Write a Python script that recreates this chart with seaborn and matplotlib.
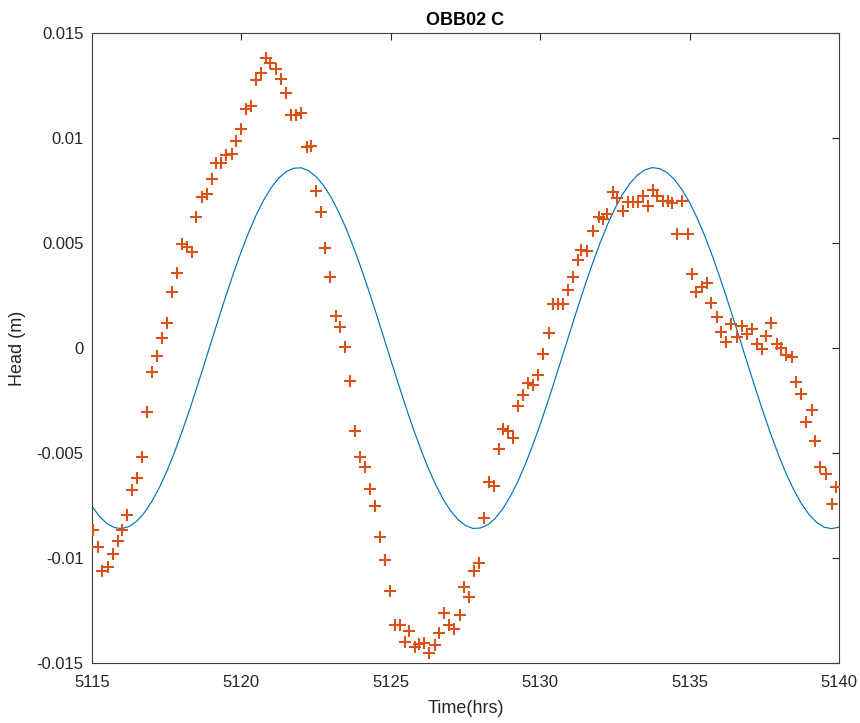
import matplotlib
matplotlib.use("Agg")
import matplotlib.pyplot as plt
import seaborn as sns
import numpy as np
import pandas as pd
from matplotlib.ticker import FuncFormatter

# Measured data (red '+' markers)
obs_time = [
    5115.03, 5115.20, 5115.35, 5115.54, 5115.70, 5115.87, 5116.02, 5116.18, 5116.34, 5116.52,
    5116.67, 5116.84, 5117.01, 5117.18, 5117.34, 5117.51, 5117.68, 5117.84, 5118.01, 5118.18,
    5118.35, 5118.49, 5118.69, 5118.85, 5119.01, 5119.16, 5119.32, 5119.50, 5119.67, 5119.83,
    5120.00, 5120.17, 5120.33, 5120.48, 5120.65, 5120.81, 5120.95, 5121.15, 5121.32, 5121.48,
    5121.67, 5121.84, 5122.01, 5122.18, 5122.32, 5122.49, 5122.65, 5122.81, 5122.98, 5123.15,
    5123.31, 5123.48, 5123.62, 5123.79, 5123.96, 5124.13, 5124.29, 5124.46, 5124.63, 5124.80,
    5124.96, 5125.13, 5125.30, 5125.47, 5125.61, 5125.80, 5125.94, 5126.11, 5126.27, 5126.47,
    5126.61, 5126.78, 5126.95, 5127.11, 5127.30, 5127.45, 5127.62, 5127.77, 5127.94, 5128.11,
    5128.28, 5128.44, 5128.61, 5128.76, 5128.92, 5129.09, 5129.26, 5129.42, 5129.59, 5129.76,
    5129.93, 5130.09, 5130.28, 5130.43, 5130.60, 5130.76, 5130.93, 5131.10, 5131.26, 5131.38,
    5131.57, 5131.77, 5131.96, 5132.10, 5132.24, 5132.42, 5132.57, 5132.77, 5132.94, 5133.11,
    5133.27, 5133.44, 5133.61, 5133.77, 5133.92, 5134.11, 5134.26, 5134.42, 5134.58, 5134.75,
    5134.93, 5135.08, 5135.23, 5135.42, 5135.58, 5135.73, 5135.90, 5136.04, 5136.23, 5136.40,
    5136.59, 5136.75, 5136.92, 5137.09, 5137.26, 5137.42, 5137.57, 5137.74, 5137.91, 5138.07,
    5138.24, 5138.41, 5138.55, 5138.72, 5138.91, 5139.08, 5139.21, 5139.38, 5139.55, 5139.75,
    5139.91,
]
obs_head = [
    -0.00867, -0.00946, -0.01060, -0.01044, -0.00981, -0.00918, -0.00867, -0.00795, -0.00676, -0.00620,
    -0.00520, -0.00306, -0.00116, -0.00037, 0.00046, 0.00118, 0.00268, 0.00360, 0.00495, 0.00482,
    0.00459, 0.00625, 0.00720, 0.00733, 0.00808, 0.00884, 0.00880, 0.00919, 0.00927, 0.00987,
    0.01046, 0.01141, 0.01152, 0.01276, 0.01311, 0.01380, 0.01356, 0.01332, 0.01284, 0.01216,
    0.01110, 0.01110, 0.01118, 0.00959, 0.00963, 0.00749, 0.00649, 0.00475, 0.00337, 0.00152,
    0.00101, 0.00006, -0.00156, -0.00394, -0.00518, -0.00568, -0.00673, -0.00751, -0.00901, -0.01010,
    -0.01157, -0.01319, -0.01319, -0.01398, -0.01348, -0.01425, -0.01410, -0.01406, -0.01454, -0.01414,
    -0.01356, -0.01263, -0.01319, -0.01338, -0.01271, -0.01140, -0.01184, -0.01060, -0.01025, -0.00808,
    -0.00637, -0.00656, -0.00481, -0.00386, -0.00394, -0.00430, -0.00276, -0.00224, -0.00168, -0.00176,
    -0.00129, -0.00029, 0.00073, 0.00210, 0.00210, 0.00210, 0.00276, 0.00337, 0.00419, 0.00467,
    0.00463, 0.00559, 0.00625, 0.00617, 0.00641, 0.00744, 0.00717, 0.00654, 0.00697, 0.00697,
    0.00697, 0.00724, 0.00676, 0.00752, 0.00724, 0.00702, 0.00702, 0.00689, 0.00546, 0.00702,
    0.00543, 0.00352, 0.00268, 0.00289, 0.00311, 0.00213, 0.00146, 0.00078, 0.00030, 0.00114,
    0.00051, 0.00105, 0.00067, 0.00089, 0.00022, -0.00006, 0.00057, 0.00120, 0.00022, 0.00000,
    -0.00033, -0.00044, -0.00160, -0.00219, -0.00351, -0.00295, -0.00441, -0.00568, -0.00600, -0.00743,
    -0.00663,
]

# Model curve (blue line), read every 0.25 hr
model_time = [5115.0 + 0.25 * k for k in range(101)]
model_head = [
    -0.00754, -0.00802, -0.00836, -0.00855, -0.00860, -0.00849, -0.00824, -0.00784, -0.00731, -0.00665,
    -0.00588, -0.00500, -0.00403, -0.00300, -0.00191, -0.00079, 0.00034, 0.00147, 0.00257, 0.00363,
    0.00462, 0.00554, 0.00636, 0.00706, 0.00765, 0.00810, 0.00841, 0.00857, 0.00859, 0.00845,
    0.00817, 0.00775, 0.00719, 0.00650, 0.00571, 0.00481, 0.00383, 0.00279, 0.00169, 0.00057,
    -0.00057, -0.00169, -0.00279, -0.00383, -0.00481, -0.00571, -0.00650, -0.00719, -0.00775, -0.00817,
    -0.00845, -0.00859, -0.00857, -0.00841, -0.00810, -0.00765, -0.00706, -0.00636, -0.00554, -0.00462,
    -0.00363, -0.00257, -0.00147, -0.00034, 0.00079, 0.00191, 0.00300, 0.00403, 0.00500, 0.00588,
    0.00665, 0.00731, 0.00784, 0.00824, 0.00849, 0.00860, 0.00855, 0.00836, 0.00802, 0.00754,
    0.00693, 0.00620, 0.00537, 0.00443, 0.00342, 0.00235, 0.00124, 0.00011, -0.00102, -0.00213,
    -0.00321, -0.00423, -0.00518, -0.00604, -0.00679, -0.00743, -0.00793, -0.00830, -0.00853, -0.00860,
    -0.00853,
]

x_ticks = [5115, 5120, 5125, 5130, 5135, 5140]
y_ticks = [-0.015, -0.01, -0.005, 0, 0.005, 0.01, 0.015]

title_text = "OBB02 C"
x_label = "Time(hrs)"
y_label = "Head (m)"

sns.set_style("white")
plt.rcParams['font.family'] = ['Liberation Sans', 'DejaVu Sans']

fig = plt.figure(figsize=(8.6, 7.23), dpi=100)
ax = fig.add_axes([0.107, 0.083, 0.8686, 0.871])

model_df = pd.DataFrame({"t": model_time, "h": model_head})
obs_df = pd.DataFrame({"t": obs_time, "h": obs_head})

sns.lineplot(data=model_df, x="t", y="h", ax=ax, color="#0072BD", linewidth=0.85)
sns.scatterplot(data=obs_df, x="t", y="h", ax=ax, marker="+", s=85,
                color="#D95319", linewidth=1.5, zorder=3)

ax.set_xlim(5115, 5140)
ax.set_ylim(-0.015, 0.015)
ax.set_xticks(x_ticks)
ax.set_yticks(y_ticks)
ax.yaxis.set_major_formatter(FuncFormatter(lambda v, p: f"{round(v, 6):g}"))
ax.xaxis.set_major_formatter(FuncFormatter(lambda v, p: f"{v:g}"))

ax.tick_params(direction="in", length=5, width=0.8, colors="#262626",
               labelsize=12, top=True, right=True, labelcolor="#262626")
ax.tick_params(axis="x", pad=9)
ax.tick_params(axis="y", pad=6)
for sp in ax.spines.values():
    sp.set_color("#404040")
    sp.set_linewidth(0.8)
    sp.set_visible(True)

ax.set_xlabel(x_label, fontsize=13, color="#262626", labelpad=7)
ax.set_ylabel(y_label, fontsize=13, color="#262626", labelpad=8)
ax.set_title(title_text, fontsize=13, fontweight="bold", color="black", pad=6)

fig.savefig("out.png", dpi=100, facecolor="white")
